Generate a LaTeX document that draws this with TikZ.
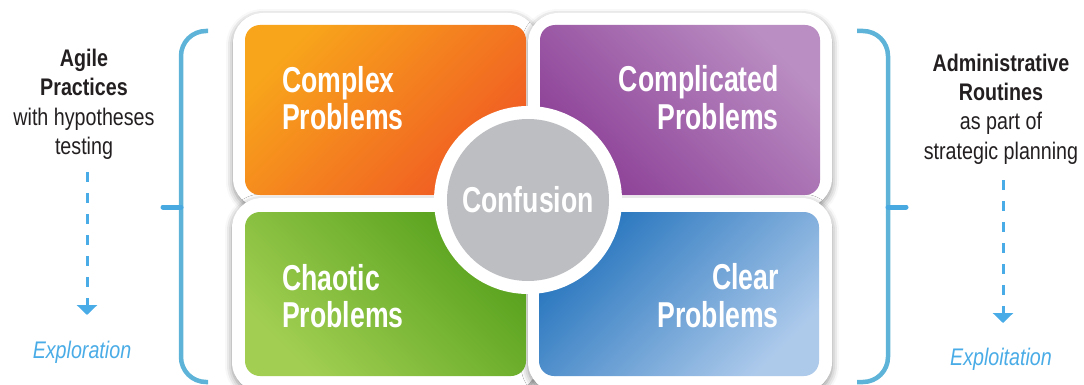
\documentclass[tikz,border=0pt]{standalone}
\usepackage{fontspec}
\setmainfont{Liberation Sans}
\newfontfamily\bigfont[FakeStretch=0.74]{Liberation Sans}
\newfontfamily\sidefont[FakeStretch=0.82]{Liberation Sans}
\usetikzlibrary{arrows.meta,shadows.blur}
\definecolor{orangeA}{HTML}{F8A51B}
\definecolor{orangeB}{HTML}{F05A23}
\definecolor{purpleA}{HTML}{8C3F96}
\definecolor{purpleB}{HTML}{BA8EC3}
\definecolor{greenA}{HTML}{A2CF52}
\definecolor{greenB}{HTML}{55A01C}
\definecolor{blueA}{HTML}{2574BD}
\definecolor{blueB}{HTML}{ADCAEB}
\definecolor{confgray}{HTML}{BDBEC1}
\definecolor{brk}{HTML}{5DB4D8}
\definecolor{tickc}{HTML}{48A9E1}
\definecolor{arrc}{HTML}{4AACE6}
\definecolor{txtblack}{HTML}{231F20}
\begin{document}
\begin{tikzpicture}[x=1pt,y=-1pt,
  frame/.style={fill=white, rounded corners=30pt,
    blur shadow={shadow xshift=0pt, shadow yshift=-3pt, shadow blur radius=7pt, shadow opacity=45}},
  box/.style={rounded corners=15pt},
  bigtxt/.style={text=white, font=\bigfont\bfseries\fontsize{36}{40}\selectfont, inner sep=0pt},
  sidebold/.style={text=txtblack, font=\sidefont\bfseries\fontsize{24}{28}\selectfont, inner sep=0pt, anchor=base},
  sidereg/.style={text=txtblack, font=\sidefont\fontsize{24}{28}\selectfont, inner sep=0pt, anchor=base},
  sideit/.style={text=arrc, font=\sidefont\itshape\fontsize{24}{28}\selectfont, inner sep=0pt, anchor=base},
  bracket/.style={draw=brk, line width=4.5pt, rounded corners=25pt},
  bracktick/.style={draw=tickc, line width=5pt, line cap=round},
  dasharrow/.style={draw=arrc, line width=3pt, dash pattern=on 10pt off 11pt,
    -{Triangle[width=20pt,length=10pt,fill=arrc]}}
]
\useasboundingbox (0,0) rectangle (1084,385);

% white frames
\path[frame] (233,13) rectangle (538,208);
\path[frame] (528,13) rectangle (832,208);
\path[frame] (232,198) rectangle (538,392);
\path[frame] (528,198) rectangle (832,392);

% coloured boxes
\path[box, left color=orangeA, right color=orangeB, shading angle=45] (245,25) rectangle (526,195);
\path[box, left color=purpleA, right color=purpleB, shading angle=135] (540,25) rectangle (820,195);
\path[box, left color=greenA, right color=greenB, shading angle=135] (245,212) rectangle (526,376);
\path[box, left color=blueA, right color=blueB, shading angle=45] (539,212) rectangle (819,376);

% centre circle
\node[circle, fill=white, minimum size=188pt, inner sep=0pt] (ring) at (528,200) {};
\node[circle, fill=confgray, minimum size=162pt, inner sep=0pt] (core) at (528,200) {};

% quadrant texts
\node[bigtxt, anchor=base west] (cx1) at (282,93) {Complex};
\node[bigtxt, anchor=base west] (cx2) at (282,130) {Problems};
\node[bigtxt, anchor=base east] (cd1) at (779,92) {Complicated};
\node[bigtxt, anchor=base east] (cd2) at (779,130) {Problems};
\node[bigtxt, anchor=base west] (ch1) at (282,290) {Chaotic};
\node[bigtxt, anchor=base west] (ch2) at (282,327) {Problems};
\node[bigtxt, anchor=base east] (cl1) at (779,289) {Clear};
\node[bigtxt, anchor=base east] (cl2) at (779,327) {Problems};
\node[bigtxt, anchor=base] (cf) at (528,212) {Confusion};

% brackets
\draw[bracket] (208,31) -- (181,31) -- (181,382) -- (208,382);
\draw[bracktick] (163,207) -- (181,207);
\draw[bracket] (857,31) -- (888,31) -- (888,382) -- (857,382);
\draw[bracktick] (888,207) -- (906,207);

% left side text
\node[sidebold] (l1) at (84,66.5) {Agile};
\node[sidebold] (l2) at (84,95.5) {Practices};
\node[sidereg] (l3) at (84,125) {with hypotheses};
\node[sidereg] (l4) at (84,154) {testing};
\node[sideit] (lex) at (82,358) {Exploration};
\coordinate (la) at (87,172);
\coordinate (lb) at (87,315);
\draw[dasharrow] (la) -- (lb);

% right side text
\node[sidebold] (r1) at (1001,71.5) {Administrative};
\node[sidebold] (r2) at (1001,101) {Routines};
\node[sidereg] (r3) at (1001,130) {as part of};
\node[sidereg] (r4) at (1001,159) {strategic planning};
\node[sideit] (rex) at (1001,365) {Exploitation};
\coordinate (ra) at (1003,180);
\coordinate (rb) at (1003,323);
\draw[dasharrow] (ra) -- (rb);
\end{tikzpicture}
\end{document}
